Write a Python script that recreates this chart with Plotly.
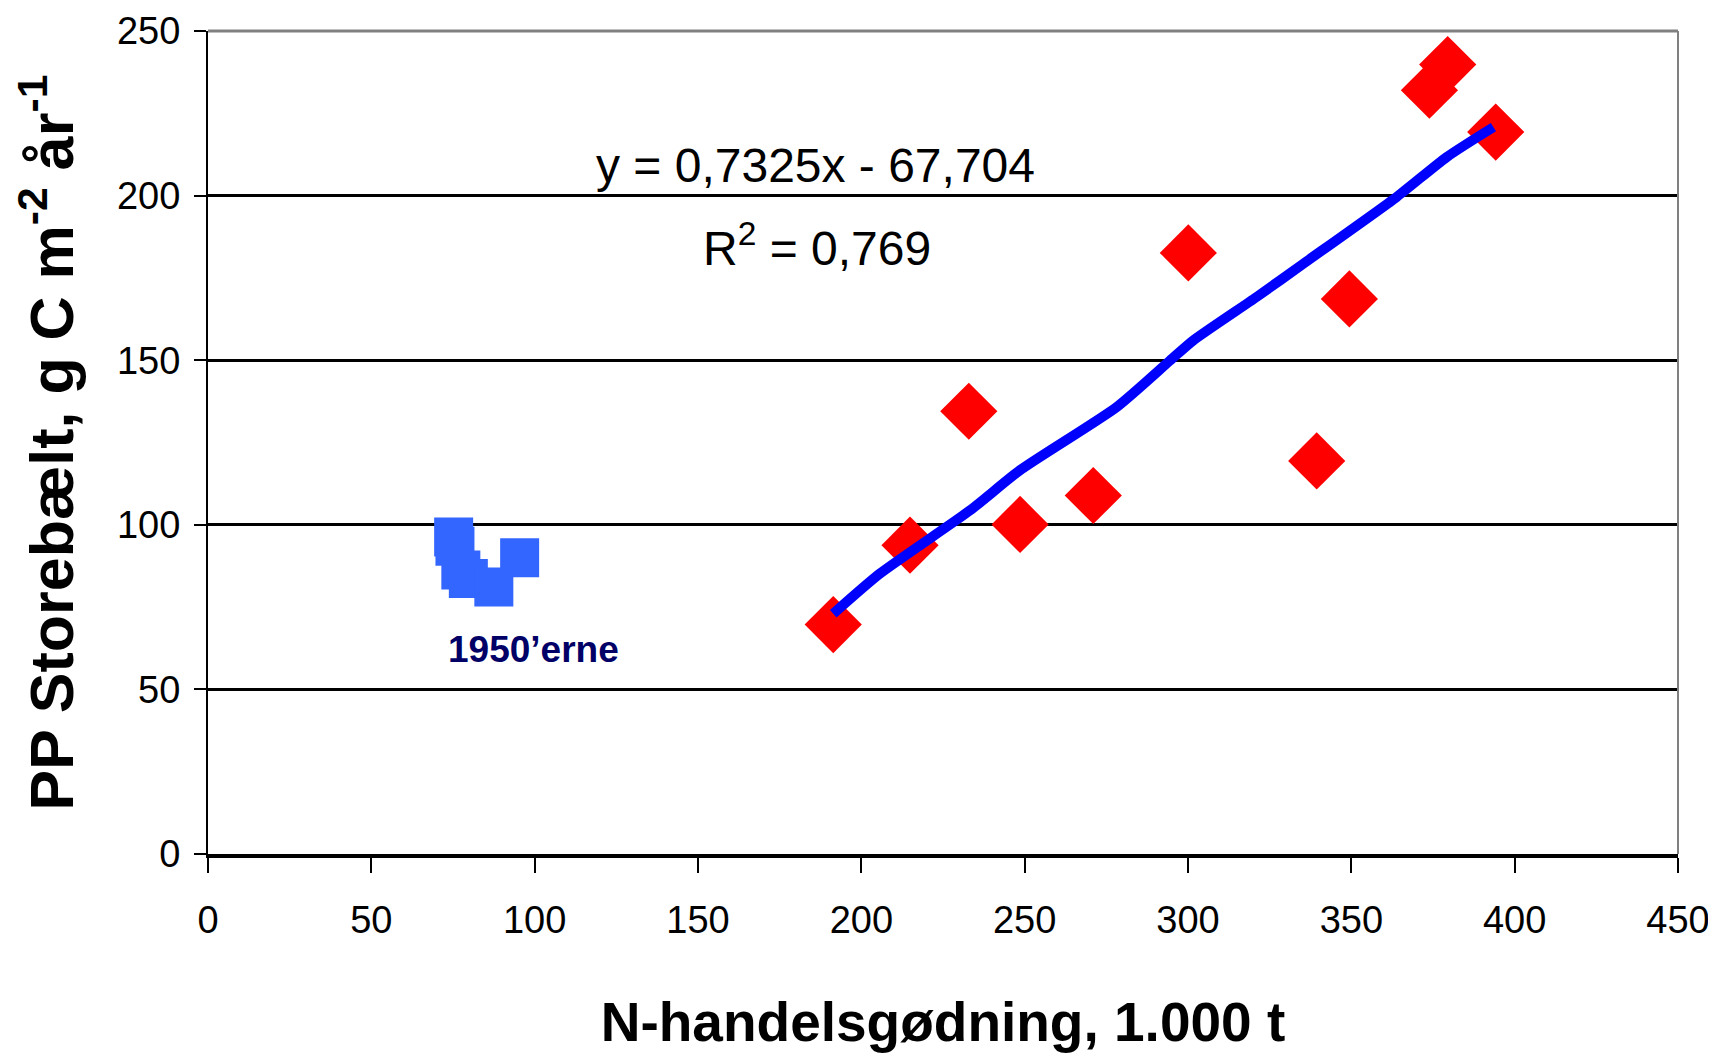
import plotly.graph_objects as go

# Data
red_x = [191.4, 214.9, 232.9, 248.6, 271.0, 300.1, 339.4, 349.4, 373.9, 379.5, 394.2]
red_y = [69.7, 93.8, 134.5, 100.1, 108.9, 182.6, 119.4, 168.6, 232.0, 239.8, 219.3]

blue_x = [75.2, 75.6, 77.4, 79.7, 87.5, 95.4]
blue_y = [96.3, 93.5, 86.3, 83.7, 81.1, 90.0]

trend_x = [191.4, 205.7, 233.3, 248.6, 278.2, 294.5, 301.6, 321.0, 335.3, 363.9, 379.2, 393.5]
trend_y = [73.0, 85.2, 104.4, 116.6, 135.8, 149.9, 156.0, 169.2, 179.3, 199.6, 211.7, 220.8]

x_ticks = [0, 50, 100, 150, 200, 250, 300, 350, 400, 450]
y_ticks = [0, 50, 100, 150, 200, 250]

FONT = "Liberation Sans, Arial, sans-serif"

fig = go.Figure()

fig.add_trace(go.Scatter(
    x=blue_x, y=blue_y, mode="markers",
    marker=dict(symbol="square", size=39, color="#3366FF"),
    showlegend=False, hoverinfo="skip"))

fig.add_trace(go.Scatter(
    x=red_x, y=red_y, mode="markers",
    marker=dict(symbol="diamond", size=44, color="#FF0000"),
    showlegend=False, hoverinfo="skip"))

fig.add_trace(go.Scatter(
    x=trend_x, y=trend_y, mode="lines",
    line=dict(color="#0000FF", width=10, shape="spline", smoothing=0.6),
    showlegend=False, hoverinfo="skip"))

# page body has an 8px margin, so the figure is offset by 8px
fig.update_layout(
    width=1708, height=1049,
    margin=dict(l=200, r=38, t=23, b=203),
    paper_bgcolor="white", plot_bgcolor="white",
    font=dict(family=FONT, color="black"),
    xaxis=dict(
        range=[0, 450], tickvals=x_ticks, ticktext=[str(v) for v in x_ticks],
        showgrid=False, zeroline=False, automargin=False,
        showline=True, linecolor="black", linewidth=4,
        ticks="outside", ticklen=15, tickwidth=2, tickcolor="black",
        tickfont=dict(size=38, family=FONT, color="black"),
        ticklabelstandoff=14,
        title=dict(text="<b>N-handelsgødning, 1.000 t</b>",
                   font=dict(size=55, family=FONT, color="black"), standoff=64),
    ),
    yaxis=dict(
        range=[0, 250], tickvals=y_ticks, ticktext=[str(v) for v in y_ticks],
        showgrid=True, gridcolor="black", gridwidth=3, zeroline=False, automargin=False,
        showline=True, linecolor="black", linewidth=2,
        ticks="outside", ticklen=12, tickwidth=2, tickcolor="black",
        tickfont=dict(size=38, family=FONT, color="black"),
        ticklabelstandoff=6,
        title=dict(text="<b>PP Storebælt, g C m<sup>-2</sup> år<sup>-1</sup></b>",
                   font=dict(size=61, family=FONT, color="black"), standoff=28),
    ),
    shapes=[
        dict(type="line", xref="paper", yref="paper", x0=0, x1=1, y0=1, y1=1,
             line=dict(color="#808080", width=3), layer="above"),
        dict(type="line", xref="paper", yref="paper", x0=1, x1=1, y0=0, y1=1,
             line=dict(color="#808080", width=2), layer="above"),
    ],
    annotations=[
        dict(x=186, y=209, xref="x", yref="y", text="y = 0,7325x - 67,704",
             showarrow=False, font=dict(size=48, family=FONT, color="black")),
        dict(x=186.5, y=185, xref="x", yref="y", text="R<sup>2</sup> = 0,769",
             showarrow=False, font=dict(size=48, family=FONT, color="black")),
        dict(x=99.5, y=62.2, xref="x", yref="y", text="<b>1950’erne</b>",
             showarrow=False, font=dict(size=37, family=FONT, color="#000066")),
    ],
)

fig.write_html("out.html")
